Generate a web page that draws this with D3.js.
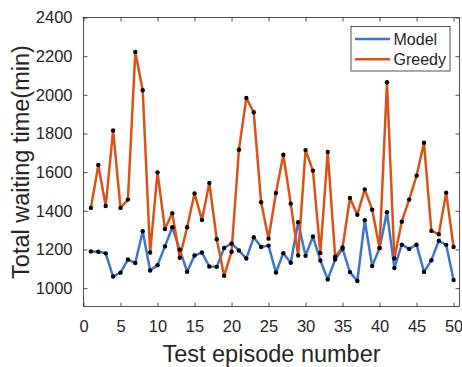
<!DOCTYPE html>
<html><head><meta charset="utf-8">
<script src="https://cdn.jsdelivr.net/npm/d3@7"></script>
<style>
html,body{margin:0;padding:0;background:#fff;}
svg{display:block;font-family:"Liberation Sans",Arial,sans-serif;}
</style></head>
<body><svg id="c" width="462" height="367"></svg>
<script>
const episodes = d3.range(1, 51);
const modelValues = [1190,1188,1180,1060,1080,1148,1130,1294,1091,1119,1216,1315,1199,1085,1169,1184,1112,1110,1208,1231,1195,1153,1263,1213,1220,1081,1181,1131,1341,1167,1267,1143,1045,1148,1204,1083,1037,1351,1114,1207,1393,1104,1225,1203,1225,1084,1144,1245,1224,1042];
const greedyValues = [1415,1637,1425,1816,1415,1458,2222,2024,1184,1599,1306,1388,1157,1315,1490,1353,1544,1253,1064,1188,1716,1984,1910,1444,1256,1492,1690,1437,1169,1714,1608,1182,1704,1163,1210,1466,1380,1511,1406,1208,2065,1153,1344,1458,1582,1752,1296,1279,1494,1213];
const xTicks = [0,5,10,15,20,25,30,35,40,45,50];
const yTicks = [1000,1200,1400,1600,1800,2000,2200,2400];
const seriesNames = ["Model","Greedy"];
const seriesColors = ["#4174CD","#D95319"];

const L = 83.5, R = 459.5, T = 17.5, B = 306.5;
const x = d3.scaleLinear().domain([0, 50.8]).range([L, R]);
const y = d3.scaleLinear().domain([905, 2400]).range([B, T]);
const axisColor = "#262626";
const svg = d3.select("#c");

// frame
svg.append("rect").attr("x", L).attr("y", T).attr("width", R - L).attr("height", B - T)
  .attr("fill", "none").attr("stroke", axisColor).attr("stroke-width", 0.8);

function styleAxis(g){
  g.select(".domain").remove();
  g.selectAll(".tick line").attr("stroke", axisColor).attr("stroke-width", 0.8);
  g.selectAll(".tick text").attr("fill", axisColor).style("font-size", "16.5px")
    .style("font-family", '"Liberation Sans",Arial,sans-serif');
}
// bottom & top
svg.append("g").attr("transform", `translate(0,${B})`)
  .call(d3.axisBottom(x).tickValues(xTicks).tickSize(-4).tickPadding(10).tickFormat(d3.format("d")))
  .call(styleAxis).call(g => g.selectAll(".tick text").attr("dy", "0.71em").attr("y", 14));
svg.append("g").attr("transform", `translate(0,${T})`)
  .call(d3.axisTop(x).tickValues(xTicks).tickSize(-4).tickFormat(""))
  .call(styleAxis);
// left & right
svg.append("g").attr("transform", `translate(${L},0)`)
  .call(d3.axisLeft(y).tickValues(yTicks).tickSize(-4).tickPadding(11).tickFormat(d3.format("d")))
  .call(styleAxis);
svg.append("g").attr("transform", `translate(${R},0)`)
  .call(d3.axisRight(y).tickValues(yTicks).tickSize(-4).tickFormat(""))
  .call(styleAxis);

// axis titles
svg.append("text").attr("x", (L + R) / 2).attr("y", 361.5).attr("text-anchor", "middle")
  .attr("fill", axisColor).style("font-size", "23.5px").text("Test episode number");
svg.append("text").attr("transform", `translate(29,${(T + B) / 2}) rotate(-90)`)
  .attr("text-anchor", "middle").attr("fill", axisColor).style("font-size", "23.5px")
  .text("Total waiting time(min)");

// series
const series = [modelValues, greedyValues];
const line = d3.line().x((d, i) => x(episodes[i])).y(d => y(d));
series.forEach((vals, k) => {
  svg.append("path").datum(vals).attr("d", line).attr("fill", "none")
    .attr("stroke", seriesColors[k]).attr("stroke-width", 2.5).attr("stroke-linejoin", "round");
});
series.forEach((vals) => {
  svg.append("g").selectAll("circle").data(vals).join("circle")
    .attr("cx", (d, i) => x(episodes[i])).attr("cy", d => y(d)).attr("r", 2.2).attr("fill", "#000");
});

// legend
const lg = svg.append("g");
lg.append("rect").attr("x", 351).attr("y", 26.5).attr("width", 99).attr("height", 44.5)
  .attr("fill", "#fff").attr("stroke", axisColor).attr("stroke-width", 0.8);
seriesNames.forEach((name, k) => {
  const yy = 39 + k * 20.3;
  lg.append("line").attr("x1", 355).attr("x2", 390).attr("y1", yy).attr("y2", yy)
    .attr("stroke", seriesColors[k]).attr("stroke-width", 2.5);
  lg.append("text").attr("x", 393.5).attr("y", yy + 6).attr("fill", axisColor)
    .style("font-size", "16px").text(name);
});
</script></body></html>
